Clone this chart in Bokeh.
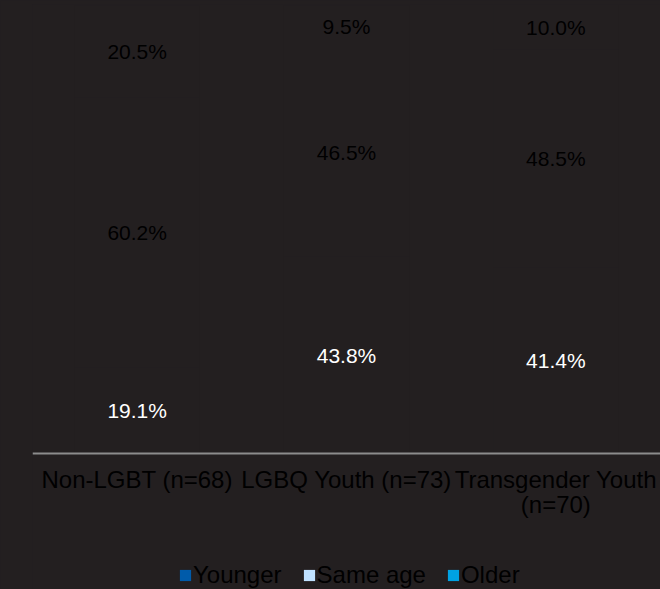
from bokeh.plotting import figure
from bokeh.models import ColumnDataSource, Range1d, FactorRange, Legend, LegendItem
from bokeh.core.properties import value
from bokeh.embed import file_html
from bokeh.resources import INLINE

categories = ["Non-LGBT (n=68)", "LGBQ Youth (n=73)", "Transgender Youth\n(n=70)"]
series = ["Younger", "Same age", "Older"]
younger = [19.1, 43.8, 41.4]
same_age = [60.2, 46.5, 48.5]
older = [20.5, 9.5, 10.0]
series_colors = ["#005BAA", "#BFE1FF", "#00A2E3"]
label_colors = ["#FFFFFF", "#000000", "#000000"]

BG = "#231F20"
FONT = "Liberation Sans"

# frame spans the full height below the bars; the axis sits at y = 0
p = figure(x_range=FactorRange(*categories), y_range=Range1d(-30.3, 100),
           width=660, height=589, output_backend="svg", toolbar_location=None,
           background_fill_color=BG, border_fill_color=BG, outline_line_color=None,
           min_border_left=32, min_border_right=0, min_border_top=4,
           min_border_bottom=0, y_axis_location=None)
p.styles = {"background-color": BG}

data = {"cat": categories, "Younger": younger, "Same age": same_age, "Older": older}
src = ColumnDataSource(data)
# bars (same colour as background in the reference, so they are not visible)
p.vbar_stack(series, x="cat", width=0.6, source=src, fill_color=BG, line_color=None)

# segment labels
xs, ys, texts, cols = [], [], [], []
for i, c in enumerate(categories):
    base = 0.0
    for vals, col in zip([younger, same_age, older], label_colors):
        v = vals[i]
        xs.append(c)
        ys.append(base + v / 2.0)
        texts.append(f"{v:.1f}%")
        cols.append(col)
        base += v
lsrc = ColumnDataSource(dict(x=xs, y=ys, text=texts, color=cols))
p.text(x="x", y="y", text="text", text_color="color", source=lsrc,
       text_align="center", text_baseline="middle",
       text_font=value(FONT), text_font_size="21px")

# x axis fixed at y = 0
ax = p.xaxis[0]
ax.fixed_location = 0
ax.axis_line_color = "#8C8C8C"
ax.axis_line_width = 2
ax.major_tick_line_color = None
ax.minor_tick_line_color = None
ax.major_label_text_font = FONT
ax.major_label_text_font_size = "24px"
ax.major_label_text_color = "#000000"
ax.major_label_text_line_height = 0.9
ax.major_label_standoff = 7
p.xgrid.visible = False
p.ygrid.visible = False

# legend (zero-height bars at the baseline provide the swatches)
items = []
for name, col in zip(series, series_colors):
    r = p.vbar(x="cat", top=0, bottom=0, width=0.5, source=src,
               fill_color=col, line_color=None)
    items.append(LegendItem(label=name, renderers=[r]))
legend = Legend(items=items, orientation="horizontal", location=(146, 0),
                glyph_width=14, glyph_height=14, label_standoff=1, spacing=20,
                padding=0, margin=0, border_line_color=None, background_fill_alpha=0,
                label_text_font=FONT, label_text_font_size="24px",
                label_text_color="#000000")
p.add_layout(legend, "center")

open("out.html", "w").write(file_html(p, INLINE))
